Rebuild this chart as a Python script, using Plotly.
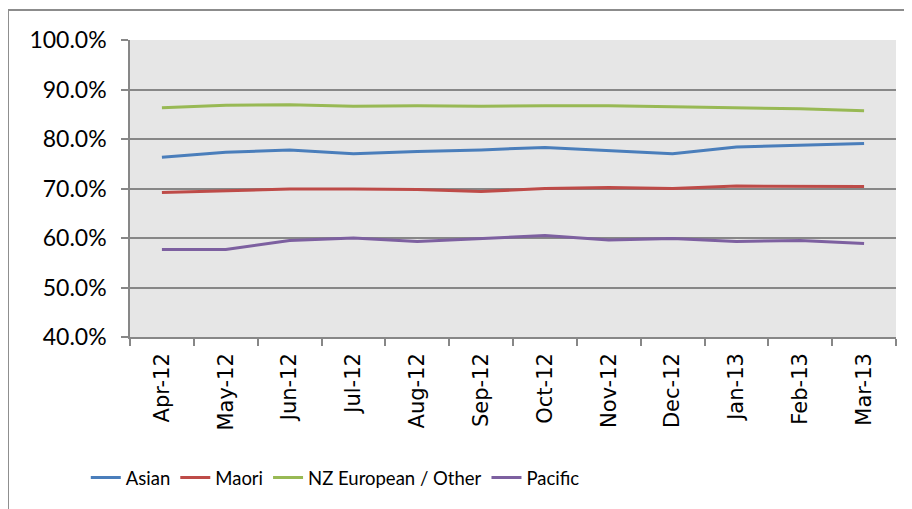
import plotly.graph_objects as go

months = ["Apr-12", "May-12", "Jun-12", "Jul-12", "Aug-12", "Sep-12",
          "Oct-12", "Nov-12", "Dec-12", "Jan-13", "Feb-13", "Mar-13"]

asian = [0.763, 0.773, 0.778, 0.770, 0.775, 0.778, 0.783, 0.776, 0.770, 0.784, 0.788, 0.791]
maori = [0.692, 0.696, 0.699, 0.699, 0.698, 0.694, 0.700, 0.702, 0.700, 0.705, 0.704, 0.704]
nz_european = [0.863, 0.868, 0.869, 0.866, 0.867, 0.866, 0.867, 0.867, 0.865, 0.863, 0.861, 0.857]
pacific = [0.577, 0.577, 0.595, 0.600, 0.593, 0.599, 0.605, 0.596, 0.599, 0.593, 0.595, 0.589]

series = [
    ("Asian", asian, "#4A7EBB"),
    ("Maori", maori, "#BE4B48"),
    ("NZ European / Other", nz_european, "#98B954"),
    ("Pacific", pacific, "#7D60A0"),
]

fig = go.Figure()
for name, vals, color in series:
    fig.add_trace(go.Scatter(x=months, y=vals, name=name, mode="lines",
                             line=dict(color=color, width=3)))

grid = "#878787"
fig.update_layout(
    width=904, height=501,
    margin=dict(l=122, r=16, t=32, b=172, autoexpand=False),
    paper_bgcolor="white",
    plot_bgcolor="#E6E6E6",
    font=dict(family="Lato", size=21, color="black"),
    showlegend=True,
    legend=dict(orientation="h", x=0.268, xanchor="center", y=-0.475, yanchor="middle",
                font=dict(family="Lato", size=18.5), tracegroupgap=0,
                bgcolor="rgba(0,0,0,0)"),
    xaxis=dict(type="category", tickson="boundaries", range=[-0.5, 11.5],
               ticks="outside", ticklen=7, ticklabelstandoff=6,
               tickcolor=grid, tickwidth=1.5, showline=True, linecolor=grid, linewidth=1.5,
               showgrid=False, tickangle=-90, automargin=False,
               tickfont=dict(family="DejaVu Sans", size=21), fixedrange=True),
    yaxis=dict(range=[0.4, 1.0], dtick=0.1, tickformat=".1%", ticks="outside", ticklen=7,
               ticklabelstandoff=10,
               tickcolor=grid, tickwidth=1.5, showline=True, linecolor=grid, linewidth=1.5,
               showgrid=True, gridcolor=grid, gridwidth=1.5, zeroline=False, automargin=False,
               tickfont=dict(family="Lato", size=23), fixedrange=True),
    shapes=[
        dict(type="line", xref="paper", yref="paper", x0=-0.1593, x1=1.03, y0=1.101, y1=1.101,
             line=dict(color="#8C8C8C", width=2)),
        dict(type="line", xref="paper", yref="paper", x0=-0.1593, x1=-0.1593, y0=1.101, y1=-0.6,
             line=dict(color="#8C8C8C", width=2)),
    ],
)

fig.write_html("out.html")
